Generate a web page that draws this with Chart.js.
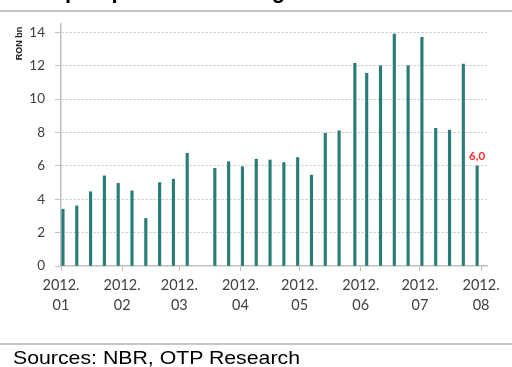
<!DOCTYPE html>
<html>
<head>
<meta charset="utf-8">
<script src="https://cdn.jsdelivr.net/npm/chart.js@4.4.1/dist/chart.umd.min.js"></script>
<style>
  html, body { margin: 0; padding: 0; background: #fff; }
  #wrap { position: relative; width: 512px; height: 367px; overflow: hidden; }
  #title { position: absolute; left: 37px; top: -20px; font: bold 22px/22px Arial, "Liberation Sans", sans-serif; color: #000; white-space: nowrap; }
  .rule { position: absolute; left: 0; width: 512px; height: 2px; background: #c6c6c6; }
  #source { position: absolute; left: 13px; top: 348px; font: 19px/19px Arial, "Liberation Sans", sans-serif; color: #000; white-space: nowrap; transform: scaleX(1.12); transform-origin: left top; }
  canvas { position: absolute; left: 0; top: 0; }
</style>
</head>
<body>
<div id="wrap">
  <canvas id="chart" width="512" height="367"></canvas>
  <div id="title">Repo operations during 2012</div>
  <div class="rule" style="top:10px"></div>
  <div class="rule" style="top:343px"></div>
  <div id="source">Sources: NBR, OTP Research</div>
</div>
<script>
// weekly repo auctions (RON bn)
const weekDates = [
  '2012-01-02', '2012-01-09', '2012-01-16', '2012-01-23', '2012-01-30',
  '2012-02-06', '2012-02-13', '2012-02-20', '2012-02-27',
  '2012-03-05', '2012-03-19', '2012-03-26',
  '2012-04-02', '2012-04-09', '2012-04-16', '2012-04-23', '2012-04-30',
  '2012-05-07', '2012-05-14', '2012-05-21', '2012-05-29',
  '2012-06-04', '2012-06-11', '2012-06-18', '2012-06-25',
  '2012-07-02', '2012-07-09', '2012-07-16', '2012-07-23', '2012-07-30'
];
const repoVolume = [
  3.4, 3.6, 4.45, 5.4, 4.95,
  4.5, 2.85, 5.0, 5.2,
  6.75, 5.85, 6.25,
  5.95, 6.4, 6.35, 6.2, 6.5,
  5.45, 7.95, 8.1, 12.15,
  11.55, 12.0, 13.9, 12.0,
  13.7, 8.25, 8.15, 12.1, 6.0
];
const monthStarts = [
  '2012-01-01', '2012-02-01', '2012-03-01', '2012-04-01',
  '2012-05-01', '2012-06-01', '2012-07-01', '2012-08-01'
];
const monthLabels = [
  ['2012.', '01'], ['2012.', '02'], ['2012.', '03'], ['2012.', '04'],
  ['2012.', '05'], ['2012.', '06'], ['2012.', '07'], ['2012.', '08']
];
const yTicks = [0, 2, 4, 6, 8, 10, 12, 14];

const dayOfYear = (s) => Math.round((Date.parse(s) - Date.parse('2012-01-01')) / 86400000);
const tickDays = monthStarts.map(dayOfYear);

const gridGray = '#c0c0c0';
const labelGray = '#404040';

const lastValueLabel = {
  id: 'lastValueLabel',
  afterDatasetsDraw(chart) {
    const meta = chart.getDatasetMeta(0);
    const bar = meta.data[meta.data.length - 1];
    const v = repoVolume[repoVolume.length - 1];
    const ctx = chart.ctx;
    ctx.save();
    ctx.font = 'bold 11.5px Lato';
    ctx.fillStyle = '#ff2a2a';
    ctx.textAlign = 'center';
    ctx.textBaseline = 'alphabetic';
    ctx.fillText(v.toFixed(1).replace('.', ','), bar.x, bar.y - 6);
    ctx.restore();
  }
};

const unitLabel = {
  id: 'unitLabel',
  afterDraw(chart) {
    const ctx = chart.ctx;
    ctx.save();
    ctx.translate(19.5, 43.5);
    ctx.rotate(-Math.PI / 2);
    ctx.font = 'bold 9px Arial';
    ctx.fillStyle = '#222';
    ctx.textAlign = 'center';
    ctx.textBaseline = 'middle';
    ctx.fillText('RON bn', 0, 0);
    ctx.restore();
  }
};

new Chart(document.getElementById('chart'), {
  type: 'bar',
  data: {
    datasets: [{
      data: weekDates.map((d, i) => ({ x: dayOfYear(d), y: repoVolume[i] })),
      backgroundColor: '#2a7d77',
      barThickness: 2.5
    }]
  },
  options: {
    responsive: false,
    animation: false,
    devicePixelRatio: 1,
    layout: { padding: { top: 24, right: 25, left: 0, bottom: 41 } },
    plugins: { legend: { display: false }, tooltip: { enabled: false } },
    scales: {
      x: {
        type: 'linear',
        min: 0,
        max: 216,
        offset: false,
        afterFit: (s) => { s.height = 60; },
        afterBuildTicks: (s) => { s.ticks = tickDays.map((v) => ({ value: v })); },
        grid: { offset: false, drawOnChartArea: false, drawTicks: true, tickLength: 5, tickColor: gridGray },
        border: { color: gridGray, width: 1.5 },
        ticks: {
          autoSkip: false,
          maxRotation: 0,
          padding: 5,
          color: labelGray,
          font: { family: 'Lato', size: 14.5, lineHeight: 1.35 },
          callback: (v) => monthLabels[tickDays.indexOf(v)]
        }
      },
      y: {
        min: 0,
        max: 14.5,
        afterFit: (s) => { s.width = 61; },
        afterBuildTicks: (s) => { s.ticks = yTicks.map((v) => ({ value: v })); },
        grid: {
          color: (c) => (c.tick && c.tick.value === 0 ? 'rgba(0,0,0,0)' : '#c4c4c4'),
          tickColor: gridGray,
          tickLength: 6
        },
        border: { color: gridGray, width: 1.5, dash: [2, 2] },
        ticks: {
          padding: 10,
          color: labelGray,
          font: { family: 'Lato', size: 13.5 }
        }
      }
    }
  },
  plugins: [lastValueLabel, unitLabel]
});
</script>
</body>
</html>
